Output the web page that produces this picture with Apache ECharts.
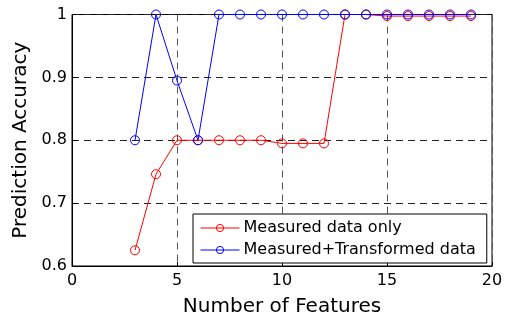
<!DOCTYPE html>
<html>
<head>
<meta charset="utf-8">
<script src="https://cdn.jsdelivr.net/npm/echarts@6/dist/echarts.min.js"></script>
<style>html,body{margin:0;padding:0;background:#fff}#c{width:511px;height:322px}</style>
</head>
<body>
<div id="c"></div>
<script>
var featuresRed = [3,4,5,6,7,8,9,10,11,12,13,14,15,16,17,18,19];
var measuredOnly = [0.625,0.746,0.8,0.8,0.8,0.8,0.8,0.795,0.795,0.795,1.0,1.0,0.9975,0.9975,0.9975,0.9975,0.9975];
var featuresBlue = [3,4,5,6,7,8,9,10,11,12,13,14,15,16,17,18,19];
var measuredTransformed = [0.8,1.0,0.895,0.8,1,1,1,1,1,1,1,1,1,1,1,1,1];
var xTickLabels = ['0','5','10','15','20'];
var yTickLabels = ['0.6','0.7','0.8','0.9','1'];
var seriesNames = ['Measured data only','Measured+Transformed data'];

function pairs(xs, ys){ return xs.map(function(x,i){ return [x, ys[i]]; }); }
var FONT = 'DejaVu Sans';
var chart = echarts.init(document.getElementById('c'), null, {renderer:'canvas'});
chart.setOption({
  animation:false,
  backgroundColor:'#fff',
  textStyle:{fontFamily:FONT},
  grid:{left:72,right:19,top:14.5,bottom:51,show:true,borderColor:'#000',borderWidth:1,backgroundColor:'#fff'},
  legend:{
    show:true, orient:'vertical', left:193, top:214,
    backgroundColor:'#fff', borderColor:'#000', borderWidth:1, borderRadius:0,
    padding:[6,11,5,7], itemGap:6, itemWidth:39, itemHeight:9,
    lineStyle:{width:1},
    itemStyle:{borderWidth:1},
    textStyle:{fontFamily:FONT,fontSize:16,color:'#000',padding:[0,0,0,-1]},
    data:seriesNames
  },
  xAxis:{
    type:'value', min:0, max:20, interval:5,
    name:'Number of Features', nameLocation:'middle', nameGap:31,
    nameTextStyle:{fontFamily:FONT,fontSize:20,color:'#000'},
    axisLine:{show:true,lineStyle:{color:'#000',width:1}},
    axisTick:{show:true,inside:true,length:4,lineStyle:{color:'#000'}},
    axisLabel:{color:'#000',fontSize:16,fontFamily:FONT,margin:7,
      formatter:function(v,i){ return xTickLabels[Math.round(v/5)]; }},
    splitLine:{show:true,lineStyle:{color:'#555',type:[7,5],width:1}}
  },
  yAxis:{
    type:'value', min:0.6, max:1, interval:0.1,
    name:'Prediction Accuracy', nameLocation:'middle', nameGap:40, nameRotate:90,
    nameTextStyle:{fontFamily:FONT,fontSize:20,color:'#000'},
    axisLine:{show:true,lineStyle:{color:'#000',width:1}},
    axisTick:{show:true,inside:true,length:4,lineStyle:{color:'#000'}},
    axisLabel:{color:'#000',fontSize:16,fontFamily:FONT,margin:5,
      formatter:function(v,i){ return yTickLabels[Math.round((v-0.6)/0.1)]; }},
    splitLine:{show:true,lineStyle:{color:'#222',type:[7,5],width:1}}
  },
  series:[
    {name:seriesNames[0], type:'line', data:pairs(featuresRed, measuredOnly),
     symbol:'circle', symbolSize:9, showAllSymbol:true, color:'#ff0000',
     lineStyle:{color:'#ff0000',width:1},
     itemStyle:{color:'rgba(255,255,255,0)',borderColor:'#ff0000',borderWidth:1},
     emphasis:{disabled:true}, z:2},
    {name:seriesNames[1], type:'line', data:pairs(featuresBlue, measuredTransformed),
     symbol:'circle', symbolSize:9, showAllSymbol:true, color:'#0000ff',
     lineStyle:{color:'#0000ff',width:1},
     itemStyle:{color:'rgba(255,255,255,0)',borderColor:'#0000ff',borderWidth:1},
     emphasis:{disabled:true}, z:3}
  ]
});
</script>
</body>
</html>
